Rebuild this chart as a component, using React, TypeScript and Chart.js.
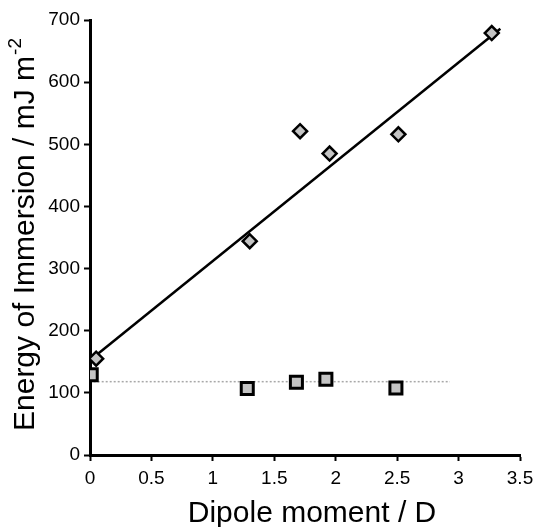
import React, { useEffect, useRef } from 'react';
import { Chart, registerables } from 'chart.js';
Chart.register(...registerables);

const diamondX = [0.05, 1.3, 1.71, 1.95, 2.51, 3.27];
const diamondY = [155, 344, 521, 485, 516, 679];
const squareX = [0.01, 1.28, 1.68, 1.92, 2.49];
const squareY = [129, 107, 117, 122, 108];
const fitX = [0.04, 3.34];
const fitY = [159, 686];
const meanX = [0.03, 2.93];
const meanY = [118, 118];
const xMin = 0, xMax = 3.5, xStep = 0.5;
const yMin = 0, yMax = 700, yStep = 100;
const xTitle = 'Dipole moment / D';
const yTitleMain = 'Energy of Immersion / mJ m';
const yTitleSup = '-2';

const FONT = '"Liberation Sans", Arial, Helvetica, sans-serif';

const toPts = (xs: number[], ys: number[]) => xs.map((x, i) => ({ x, y: ys[i] }));

const titlePlugin = {
  id: 'axisTitles',
  afterDraw(chart: any) {
    const ctx = chart.ctx as CanvasRenderingContext2D;
    ctx.save();
    ctx.fillStyle = '#000';
    ctx.font = `30px ${FONT}`;
    ctx.textAlign = 'center';
    ctx.textBaseline = 'alphabetic';
    ctx.fillText(xTitle, 312, 522);
    ctx.translate(34, 431);
    ctx.rotate(-Math.PI / 2);
    ctx.textAlign = 'left';
    ctx.fillText(yTitleMain, 0, 0);
    const w = ctx.measureText(yTitleMain).width;
    ctx.font = `19px ${FONT}`;
    ctx.fillText(yTitleSup, w + 1, -13);
    ctx.restore();
  },
};

export default function App() {
  const ref = useRef<HTMLCanvasElement>(null);
  useEffect(() => {
    if (!ref.current) return;
    const chart = new Chart(ref.current, {
      type: 'scatter',
      data: {
        datasets: [
          {
            label: 'diamonds',
            data: toPts(diamondX, diamondY),
            pointStyle: 'rectRot',
            pointRadius: 7,
            backgroundColor: '#c4c4c4',
            borderColor: '#000',
            borderWidth: 2.5,
            showLine: false,
            order: 0,
          },
          {
            label: 'squares',
            data: toPts(squareX, squareY),
            pointStyle: 'rect',
            pointRadius: 8.5,
            backgroundColor: '#c4c4c4',
            borderColor: '#000',
            borderWidth: 3,
            showLine: false,
            order: 1,
          },
          {
            label: 'fit',
            data: toPts(fitX, fitY),
            showLine: true,
            pointRadius: 0,
            borderColor: '#000',
            borderWidth: 2.5,
            order: 2,
          },
          {
            label: 'mean',
            data: toPts(meanX, meanY),
            showLine: true,
            pointRadius: 0,
            borderColor: '#a8a8a8',
            borderWidth: 1.5,
            borderDash: [2, 2],
            order: 3,
          },
        ],
      },
      options: {
        animation: false,
        responsive: false,
        devicePixelRatio: 1,
        layout: { padding: { top: 20, right: 20, left: 0, bottom: 0 } },
        plugins: { legend: { display: false }, tooltip: { enabled: false } },
        scales: {
          x: {
            type: 'linear',
            min: xMin,
            max: xMax,
            ticks: {
              stepSize: xStep,
              color: '#000',
              font: { size: 19, family: FONT },
              padding: 6,
              maxRotation: 0,
              callback: (v: any) => String(v),
            },
            grid: { display: true, drawOnChartArea: false, drawTicks: true, tickLength: 6, tickWidth: 2, tickColor: '#000' },
            border: { display: true, color: '#000', width: 3 },
            afterFit: (s: any) => { s.height = 72; },
          },
          y: {
            type: 'linear',
            min: yMin,
            max: yMax,
            ticks: {
              stepSize: yStep,
              color: '#000',
              font: { size: 19, family: FONT },
              padding: 4,
              callback: (v: any) => String(v),
            },
            grid: { display: true, drawOnChartArea: false, drawTicks: true, tickLength: 6, tickWidth: 2, tickColor: '#000' },
            border: { display: true, color: '#000', width: 3 },
            afterFit: (s: any) => { s.width = 90; },
          },
        },
      },
      plugins: [titlePlugin],
    });
    return () => chart.destroy();
  }, []);
  return (
    <div style={{ position: 'absolute', left: 0, top: 0, width: 540, height: 527, background: '#fff' }}>
      <canvas ref={ref} width={540} height={527} />
    </div>
  );
}
